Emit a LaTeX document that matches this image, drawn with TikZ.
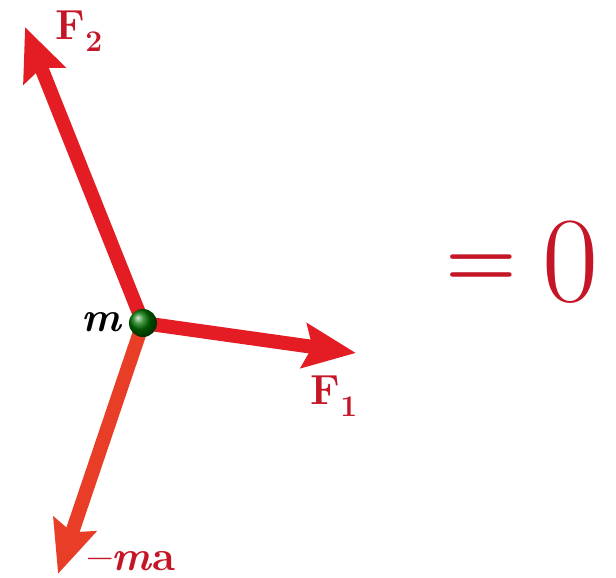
\documentclass[tikz,border=0pt]{standalone}
\usetikzlibrary{arrows.meta}
\definecolor{vecred}{RGB}{228,28,36}
\definecolor{maorange}{RGB}{232,62,40}
\definecolor{txtred}{RGB}{196,22,38}
\newcommand{\subsc}[1]{\raisebox{-0.3em}{\fontsize{30}{34}\selectfont #1}}
\begin{document}
\begin{tikzpicture}[x=1pt,y=-1pt,
  vec/.style={line width=14pt,-{Stealth[length=52pt,width=44pt,inset=8pt]}},
  lbl/.style={text=txtred,font=\fontsize{42}{48}\selectfont\bfseries,inner sep=0pt}]
\useasboundingbox (0,0) rectangle (616,578);
\coordinate (O) at (143,323);
\coordinate (t2) at (25,27);
\coordinate (t1) at (356,353);
\coordinate (t3) at (58,574);
\draw[vec,vecred] (O) -- (t2);
\draw[vec,vecred] (O) -- (t1);
\draw[vec,maorange] (O) -- (t3);
\shade[ball color=green!45!black] (O) circle (14pt);
\node[circle,minimum size=28pt,inner sep=0pt] (m0) at (O) {};
\node[lbl] (F2) at (79,31) {F\subsc{2}};
\node[lbl] (F1) at (334,396) {F\subsc{1}};
\node[lbl,anchor=base] (ma) at (132,570) {–\textit{m}a};
\node[inner sep=0pt,text=txtred,font=\fontsize{82}{90}\selectfont\bfseries] (eq) at (481,271) {=};
\node[inner sep=0pt,text=txtred,font=\fontsize{122}{130}\selectfont,anchor=base] (zero) at (570,301) {0};
\node[inner sep=0pt,font=\fontsize{42}{48}\selectfont\bfseries\itshape] (m) at (101,322) {m};
\end{tikzpicture}
\end{document}
